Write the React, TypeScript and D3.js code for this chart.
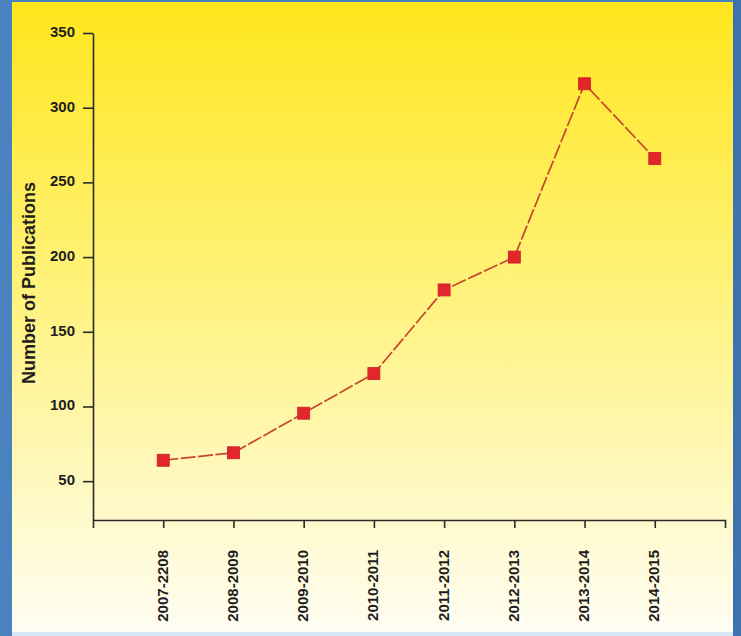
import React, { useEffect, useRef } from "react";
import * as d3 from "d3";

const categories = [
  "2007-2208",
  "2008-2009",
  "2009-2010",
  "2010-2011",
  "2011-2012",
  "2012-2013",
  "2013-2014",
  "2014-2015",
];
const publications = [64, 69, 95.5, 122, 178, 200, 316, 266];
const yTicks = [50, 100, 150, 200, 250, 300, 350];
const yLabel = "Number of Publications";

const W = 741;
const H = 636;

export default function App() {
  const ref = useRef<SVGSVGElement | null>(null);

  useEffect(() => {
    const svg = d3.select(ref.current);
    svg.selectAll("*").remove();

    const defs = svg.append("defs");
    const grad = defs
      .append("linearGradient")
      .attr("id", "bg")
      .attr("x1", 0)
      .attr("y1", 0)
      .attr("x2", 0)
      .attr("y2", 1);
    grad.append("stop").attr("offset", "0").attr("stop-color", "#ffe61c");
    grad.append("stop").attr("offset", "0.45").attr("stop-color", "#fff27a");
    grad.append("stop").attr("offset", "1").attr("stop-color", "#fffdf3");

    // frame
    svg.append("rect").attr("width", W).attr("height", H).attr("fill", "#4a82bf");
    svg.append("rect").attr("x", 733).attr("y", 0).attr("width", 8).attr("height", H).attr("fill", "#3e71b0");
    svg.append("rect").attr("x", 12).attr("y", 628).attr("width", 721).attr("height", 8).attr("fill", "#d6e8f6");
    svg.append("rect").attr("x", 12).attr("y", 2).attr("width", 721).attr("height", 630).attr("fill", "url(#bg)");

    const x = d3.scaleLinear().domain([0, categories.length + 1]).range([93, 725]);
    const y = d3.scaleLinear().domain([24, 350]).range([520, 33]);

    const font = "'Liberation Sans', Arial, sans-serif";

    // x axis
    const xAxis = d3
      .axisBottom(x)
      .tickValues(categories.map((_, i) => i + 1))
      .tickSizeInner(8)
      .tickSizeOuter(8)
      .tickFormat(() => "");
    const gx = svg.append("g").attr("transform", `translate(0,${y(24)})`).call(xAxis);
    gx.selectAll("path, line").attr("stroke", "#2a2a2a").attr("stroke-width", 1.6);

    categories.forEach((c, i) => {
      svg
        .append("text")
        .attr("transform", `translate(${x(i + 1) + 4.5},550) rotate(-90)`)
        .attr("text-anchor", "end")
        .attr("font-family", font)
        .attr("font-weight", "bold")
        .attr("font-size", 15)
        .attr("fill", "#1e1e1e")
        .text(c);
    });

    // y axis
    const yAxis = d3
      .axisLeft(y)
      .tickValues(yTicks)
      .tickSizeInner(10)
      .tickSizeOuter(0)
      .tickPadding(8);
    const gy = svg.append("g").attr("transform", `translate(${x(0)},0)`).call(yAxis);
    gy.selectAll("path, line").attr("stroke", "#2a2a2a").attr("stroke-width", 1.6);
    gy.selectAll("text")
      .attr("font-family", font)
      .attr("font-weight", "bold")
      .attr("font-size", 15)
      .attr("fill", "#1e1e1e")
      .attr("dy", "0.22em");

    svg
      .append("text")
      .attr("transform", `translate(35,283) rotate(-90)`)
      .attr("text-anchor", "middle")
      .attr("font-family", font)
      .attr("font-weight", "bold")
      .attr("font-size", 18)
      .attr("fill", "#1e1e1e")
      .text(yLabel);

    // line
    const line = d3
      .line<number>()
      .x((_, i) => x(i + 1))
      .y((d) => y(d));
    svg
      .append("path")
      .datum(publications)
      .attr("d", line)
      .attr("fill", "none")
      .attr("stroke", "#c8452e")
      .attr("stroke-width", 1.7)
      .attr("stroke-dasharray", "15,2.5");

    const s = 12;
    svg
      .append("g")
      .selectAll("rect")
      .data(publications)
      .join("rect")
      .attr("x", (_, i) => x(i + 1) - s / 2)
      .attr("y", (d) => y(d) - s / 2)
      .attr("width", s)
      .attr("height", s)
      .attr("fill", "#e3262b")
      .attr("stroke", "#c82026")
      .attr("stroke-width", 0.8);
  }, []);

  return (
    <svg
      ref={ref}
      width={W}
      height={H}
      style={{ position: "absolute", left: 0, top: 0, display: "block" }}
    />
  );
}
